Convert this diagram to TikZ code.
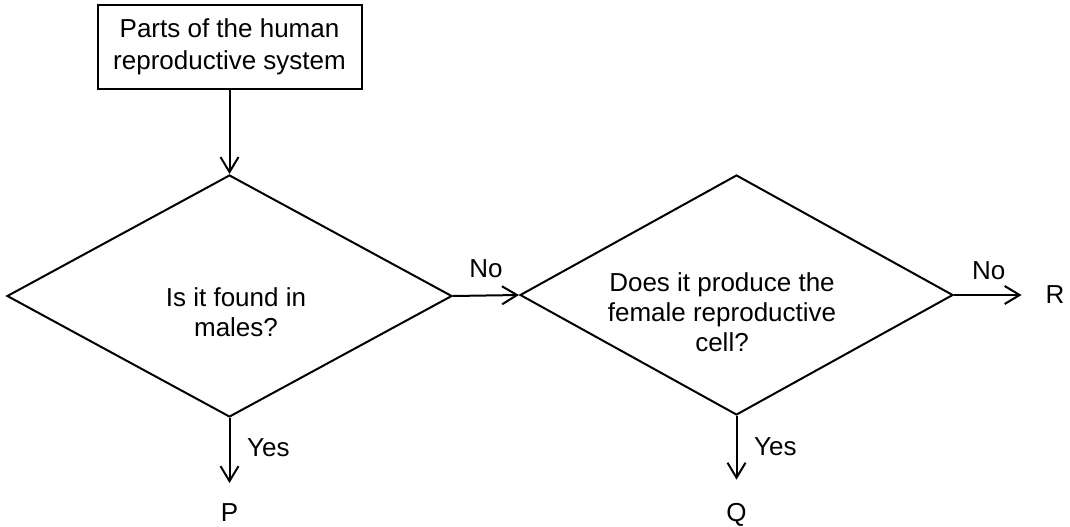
\documentclass[tikz,border=0pt]{standalone}
\usepackage{fontspec}
\setmainfont{Liberation Sans}
\usetikzlibrary{shapes.geometric,arrows.meta}

\tikzset{
    question/.style={diamond,draw,line width=1pt,aspect=1.8,inner sep=0pt},
    startbox/.style={draw,line width=1pt,align=center,minimum width=132pt,minimum height=42pt},
    arr/.style={line width=1pt,-{Straight Barb[length=7.5pt,width=9pt]}},
    outcome/.style={inner sep=0pt}
}

\begin{document}
\begin{tikzpicture}[x=1pt,y=1pt,font=\fontsize{13}{15}\selectfont]
    \pgfmathsetmacro{\leftx}{114.75}
    \pgfmathsetmacro{\rightx}{368.25}
    \useasboundingbox (0,0) rectangle (535,263);
    \node[startbox] (parts) at (\leftx,239.5) {Parts of the human\\[1pt]reproductive system};
    \node[question,minimum width=222.5pt,minimum height=121pt] (male) at (\leftx,115) {};
    \node[align=center] (maletext) at (118,107) {Is it found in\\males?};
    \node[question,minimum width=216.5pt,minimum height=120pt] (female) at (\rightx,115.5) {};
    \node[align=center] (femaletext) at (361,107) {Does it produce the\\female reproductive\\cell?};
    \node[outcome] (p) at (\leftx,6.5) {P};
    \node[outcome] (q) at (\rightx,5.5) {Q};
    \node[outcome] (r) at (527.5,115.5) {R};
    \draw[arr] (parts) -- (male.north);
    \draw[arr] (male.east) -- node[above=5pt] {No} (female.west);
    \draw[arr,shorten >=10.3pt] (male.south) -- node[pos=.35,right=5pt] {Yes} (p);
    \draw[arr,shorten >=11.7pt] (female.south) -- node[pos=.354,right=5pt] {Yes} (q);
    \draw[arr,shorten >=11.8pt] (female.east) -- node[pos=.38,above=4pt] {No} (r);
\end{tikzpicture}
\end{document}
